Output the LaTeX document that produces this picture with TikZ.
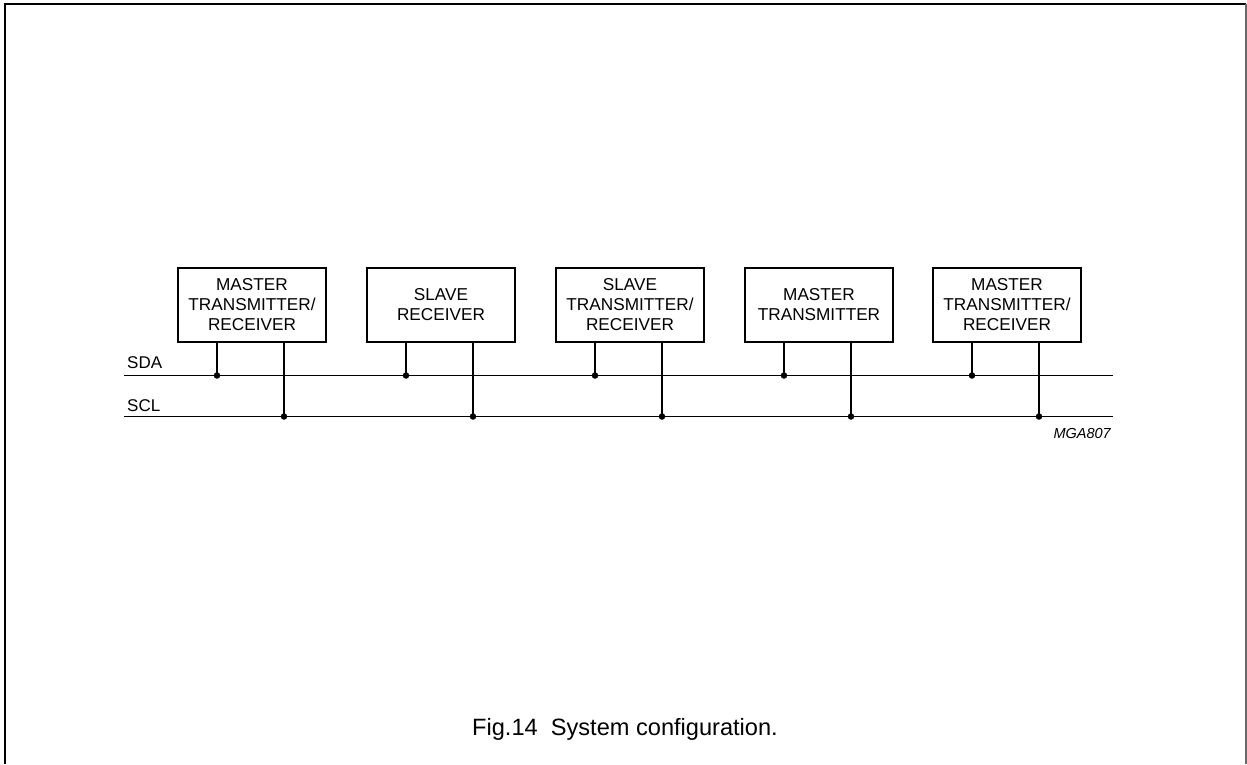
\documentclass[tikz,border=0pt]{standalone}
\usepackage{fontspec}
\setmainfont{Liberation Sans}
\usetikzlibrary{calc}

\definecolor{frmgray}{RGB}{105,105,105}

\begin{document}
\begin{tikzpicture}[x=1pt, y=-1pt,
  unit/.style={draw, line width=2pt, minimum width=148pt, minimum height=74pt,
    inner sep=0pt, align=center, font=\fontsize{17.2}{20}\selectfont},
  bus/.style={line width=1.1pt},
  tap/.style={circle, fill, inner sep=0pt, minimum size=6.5pt},
  lbl/.style={anchor=base west, inner sep=0pt, font=\fontsize{17}{20}\selectfont}]

  \useasboundingbox (0,0) rectangle (1247,764);

  % Frame
  \draw[line width=2pt] (5,764) -- (5,4) -- (1246,4);
  \draw[frmgray, line width=1.2pt] (1246,4) -- (1246,764);

  % Units on the bus
  \draw (252,305) node[unit] (u1) {MASTER\\TRANSMITTER/\\RECEIVER};
  \draw (441,305) node[unit] (u2) {SLAVE\\RECEIVER};
  \draw (630,305) node[unit] (u3) {SLAVE\\TRANSMITTER/\\RECEIVER};
  \draw (819,305) node[unit] (u4) {MASTER\\TRANSMITTER};
  \draw (1007,305) node[unit] (u5) {MASTER\\TRANSMITTER/\\RECEIVER};

  % Bus lines
  \coordinate (sdaw) at (124,375.5);
  \coordinate (sdae) at (1113,375.5);
  \coordinate (sclw) at (124,416.5);
  \coordinate (scle) at (1113,416.5);
  \draw[bus] (sdaw) -- (sdae);
  \draw[bus] (sclw) -- (scle);
  \draw (127,368) node[lbl] (sda) {SDA};
  \draw (127,411) node[lbl] (scl) {SCL};

  % Taps
  \foreach \u in {u1,u2,u3,u4,u5} {
    \coordinate (\u da) at ($(\u.south west)+(40,0)$);
    \coordinate (\u cl) at ($(\u.south west)+(107,0)$);
    \draw[bus] (\u da) -- (\u da |- sdaw) node[tap] {};
    \draw[bus] (\u cl) -- (\u cl |- sclw) node[tap] {};
  }

  % Code and caption
  \draw (1111,438) node[anchor=base east, inner sep=0pt, font=\itshape\fontsize{14.5}{17}\selectfont] (code) {MGA807};
  \draw (625,735) node[anchor=base, inner sep=0pt, font=\fontsize{23.6}{28}\selectfont] (caption) {Fig.14\ \ System configuration.};

\end{tikzpicture}
\end{document}
